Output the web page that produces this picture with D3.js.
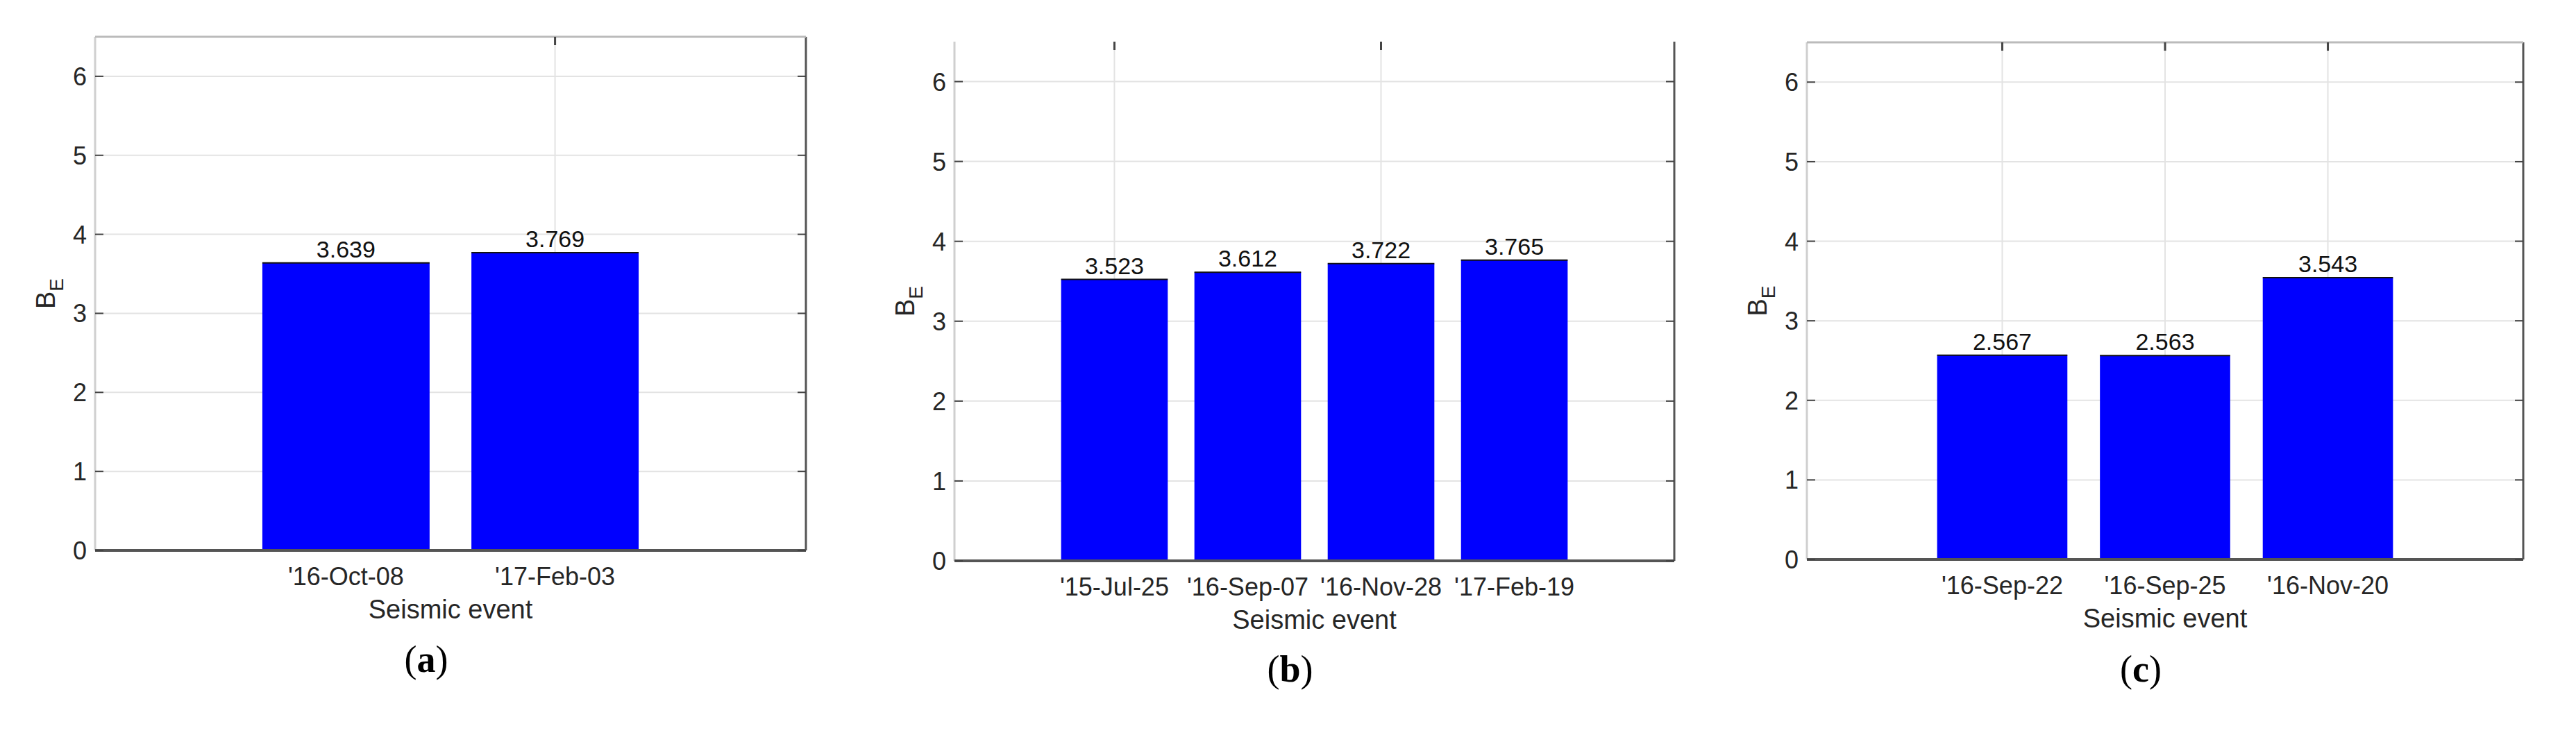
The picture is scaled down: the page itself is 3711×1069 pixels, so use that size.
<!DOCTYPE html>
<html>
<head>
<meta charset="utf-8">
<script src="https://cdn.jsdelivr.net/npm/d3@7"></script>
<style>
  body { margin: 0; background: #fff; }
  text { font-family: "Liberation Sans", Arial, sans-serif; fill: #262626; }
</style>
</head>
<body>
<svg id="chart" width="3711" height="1069"></svg>
<script>
// panel (a)
const eventsA = ["'16-Oct-08", "'17-Feb-03"];
const valuesA = [3.639, 3.769];
// panel (b)
const eventsB = ["'15-Jul-25", "'16-Sep-07", "'16-Nov-28", "'17-Feb-19"];
const valuesB = [3.523, 3.612, 3.722, 3.765];
// panel (c)
const eventsC = ["'16-Sep-22", "'16-Sep-25", "'16-Nov-20"];
const valuesC = [2.567, 2.563, 3.543];

const yTicks = [0, 1, 2, 3, 4, 5, 6];

const panels = [
  {events: eventsA, values: valuesA, tag: "a", box: [137, 1161, 53, 793], vgrid: [2], topBorder: true, tagY: 968},
  {events: eventsB, values: valuesB, tag: "b", box: [1375, 2412, 60, 808], vgrid: [1, 3], topBorder: false, tagY: 982},
  {events: eventsC, values: valuesC, tag: "c", box: [2603, 3635, 61, 806], vgrid: [1, 2, 3], topBorder: true, tagY: 982}
];

const svg = d3.select("#chart");

panels.forEach(p => {
  const [l, r, t, b] = p.box;
  const n = p.events.length;
  const x = d3.scaleLinear().domain([-0.2, n + 1.2]).range([l, r]);
  const y = d3.scaleLinear().domain([0, 6.5]).range([b, t]);
  const g = svg.append("g");

  // grid
  g.selectAll(".hg").data(yTicks.slice(1)).join("line")
    .attr("x1", l).attr("x2", r)
    .attr("y1", d => y(d)).attr("y2", d => y(d))
    .attr("stroke", "#e3e3e3").attr("stroke-width", 2);
  g.selectAll(".vg").data(p.vgrid).join("line")
    .attr("x1", d => x(d)).attr("x2", d => x(d))
    .attr("y1", t).attr("y2", b)
    .attr("stroke", "#e3e3e3").attr("stroke-width", 2);

  // bars
  g.selectAll("rect").data(p.values).join("rect")
    .attr("x", (d, i) => x(i + 1 - 0.4))
    .attr("width", x(0.8) - x(0))
    .attr("y", d => y(d))
    .attr("height", d => b - y(d))
    .attr("fill", "#0000ff");
  g.selectAll(".top").data(p.values).join("line")
    .attr("x1", (d, i) => x(i + 1 - 0.4)).attr("x2", (d, i) => x(i + 1 + 0.4))
    .attr("y1", d => y(d)).attr("y2", d => y(d))
    .attr("stroke", "#111").attr("stroke-width", 2);

  // value labels
  g.selectAll(".val").data(p.values).join("text")
    .attr("x", (d, i) => x(i + 1))
    .attr("y", d => y(d) - 8)
    .attr("text-anchor", "middle")
    .attr("font-size", 34)
    .style("fill", "#111")
    .text(d => d.toFixed(3));

  // frame
  g.append("line").attr("x1", l).attr("x2", l).attr("y1", t).attr("y2", b)
    .attr("stroke", "#cfcfcf").attr("stroke-width", 3);
  g.append("line").attr("x1", r).attr("x2", r).attr("y1", t).attr("y2", b)
    .attr("stroke", "#555").attr("stroke-width", 3);
  g.append("line").attr("x1", l).attr("x2", r).attr("y1", b).attr("y2", b)
    .attr("stroke", "#555").attr("stroke-width", 4);
  if (p.topBorder) {
    g.append("line").attr("x1", l).attr("x2", r).attr("y1", t).attr("y2", t)
      .attr("stroke", "#bbb").attr("stroke-width", 3);
  }
  // top ticks at grid positions
  g.selectAll(".tt").data(p.vgrid).join("line")
    .attr("x1", d => x(d)).attr("x2", d => x(d))
    .attr("y1", t).attr("y2", t + 12)
    .attr("stroke", "#444").attr("stroke-width", 3);
  // y ticks, both sides
  g.selectAll(".ytl").data(yTicks).join("line")
    .attr("x1", l).attr("x2", l + 12)
    .attr("y1", d => y(d)).attr("y2", d => y(d))
    .attr("stroke", "#444").attr("stroke-width", 2);
  g.selectAll(".ytr").data(yTicks).join("line")
    .attr("x1", r - 12).attr("x2", r)
    .attr("y1", d => y(d)).attr("y2", d => y(d))
    .attr("stroke", "#444").attr("stroke-width", 2);

  // y tick labels
  g.selectAll(".ylab").data(yTicks).join("text")
    .attr("x", l - 12)
    .attr("y", d => y(d) + 13)
    .attr("text-anchor", "end")
    .attr("font-size", 36)
    .text(d => d);

  // x tick labels
  g.selectAll(".xlab").data(p.events).join("text")
    .attr("x", (d, i) => x(i + 1))
    .attr("y", b + 50)
    .attr("text-anchor", "middle")
    .attr("font-size", 36)
    .text(d => d);

  // axis titles
  g.append("text")
    .attr("x", (l + r) / 2).attr("y", b + 98)
    .attr("text-anchor", "middle").attr("font-size", 38)
    .text("Seismic event");
  const yl = g.append("text")
    .attr("transform", `translate(${l - 58},${(t + b) / 2}) rotate(-90)`)
    .attr("text-anchor", "middle").attr("font-size", 38);
  yl.append("tspan").text("B");
  yl.append("tspan").attr("font-size", 28).attr("dy", 12).text("E");

  // panel tag
  const tg = svg.append("text")
    .attr("x", (l + r) / 2 - 35).attr("y", p.tagY)
    .attr("text-anchor", "middle")
    .style("font-family", "'Liberation Serif', 'Times New Roman', serif")
    .style("fill", "#000")
    .attr("font-size", 54);
  tg.append("tspan").text("(");
  tg.append("tspan").attr("font-weight", "bold").text(p.tag);
  tg.append("tspan").text(")");
});
</script>
</body>
</html>
